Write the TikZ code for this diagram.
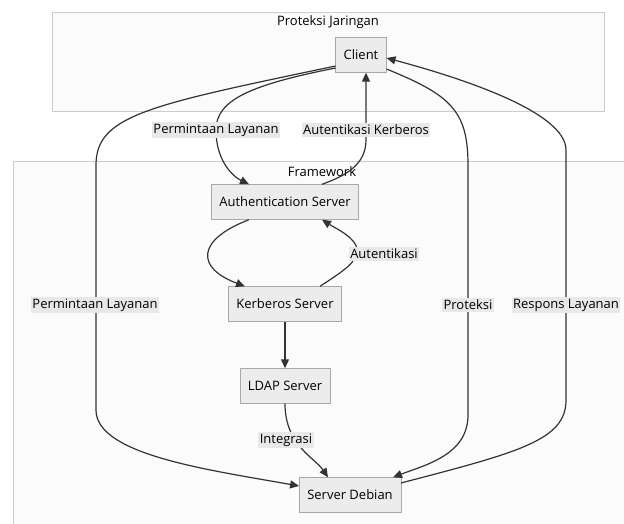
\documentclass[tikz,border=0pt]{standalone}
\usepackage{fontspec}
\setmainfont{Open Sans}
\usetikzlibrary{arrows.meta}
\definecolor{boxfill}{HTML}{ECECEC}
\definecolor{boxline}{HTML}{A8A8A8}
\definecolor{grpfill}{HTML}{FBFBFB}
\definecolor{grpline}{HTML}{CCCCCC}
\definecolor{lblfill}{HTML}{E8E8E8}
\definecolor{edgecol}{HTML}{333333}
\tikzset{
  box/.style={draw=boxline, fill=boxfill, minimum height=35pt, inner xsep=8pt, font=\fontsize{13}{15}\selectfont},
  grp/.style={draw=grpline, fill=grpfill, line width=0.8pt},
  lbl/.style={fill=lblfill, inner sep=1.5pt, font=\fontsize{13}{15}\selectfont},
  ttl/.style={font=\fontsize{13}{15}\selectfont},
  arr/.style={draw=edgecol, line width=1.2pt, -{Triangle[length=9pt,width=8pt]}}
}
\begin{document}
\begin{tikzpicture}[x=1pt, y=-1pt]
    \clip (0,0) rectangle (624,524);
    \fill[white] (0,0) rectangle (624,524);

    % Clusters
    \draw[grp] (52,12) rectangle (604,111);
    \node[ttl] (tjar) at (328,22) {Proteksi Jaringan};
    \draw[grp] (13,161) rectangle (640,540);
    \node[ttl] (tfw) at (322,172) {Framework};

    % Nodes
    \node[box] (client) at (361,55) {Client};
    \node[box] (auth) at (285,202) {Authentication Server};
    \node[box] (krb) at (285,304) {Kerberos Server};
    \node[box] (ldap) at (285,386) {LDAP Server};
    \node[box] (debian) at (350,495) {Server Debian};

    % Edges
    \draw[arr] ([yshift=-13pt]client.west) .. controls (250,85) and (216,100) .. (216,130)
        .. controls (216,160) and (232,176) .. ([xshift=-36pt]auth.north);
    \draw[arr] ([xshift=37pt]auth.north) .. controls (345,176) and (366,165) .. (366,140)
        -- ([xshift=5pt]client.south);
    \draw[arr] ([xshift=-36pt]auth.south) .. controls (196,240) and (196,268) .. ([xshift=-40pt]krb.north);
    \draw[arr] ([xshift=35pt]krb.north) .. controls (345,270) and (357,262) .. (357,250)
        .. controls (357,238) and (335,228) .. ([xshift=37pt]auth.south);
    \draw[arr] (krb) -- (ldap);
    \draw[arr] (ldap.south) .. controls (285,445) and (315,458) .. ([xshift=-22pt]debian.north);
    \draw[arr] ([yshift=-11pt]client.west) .. controls (150,105) and (96,115) .. (96,165)
        -- (96,410) .. controls (96,455) and (210,470) .. ([yshift=9pt]debian.west);
    \draw[arr] ([yshift=-14pt]client.east) .. controls (450,95) and (468,110) .. (468,165)
        -- (468,415) .. controls (468,455) and (425,465) .. ([xshift=43pt]debian.north);
    \draw[arr] ([yshift=12pt]debian.east) .. controls (520,452) and (566,440) .. (566,400)
        -- (566,150) .. controls (566,110) and (450,75) .. ([yshift=-3pt]client.east);

    % Edge labels
    \node[lbl] (l1) at (216,130) {Permintaan Layanan};
    \node[lbl] (l2) at (366,130) {Autentikasi Kerberos};
    \node[lbl] (l3) at (384,254) {Autentikasi};
    \node[lbl] (l4) at (95,305) {Permintaan Layanan};
    \node[lbl] (l5) at (468,305) {Proteksi};
    \node[lbl] (l6) at (566,305) {Respons Layanan};
    \node[lbl] (l7) at (286,440) {Integrasi};
  \end{tikzpicture}
\end{document}
